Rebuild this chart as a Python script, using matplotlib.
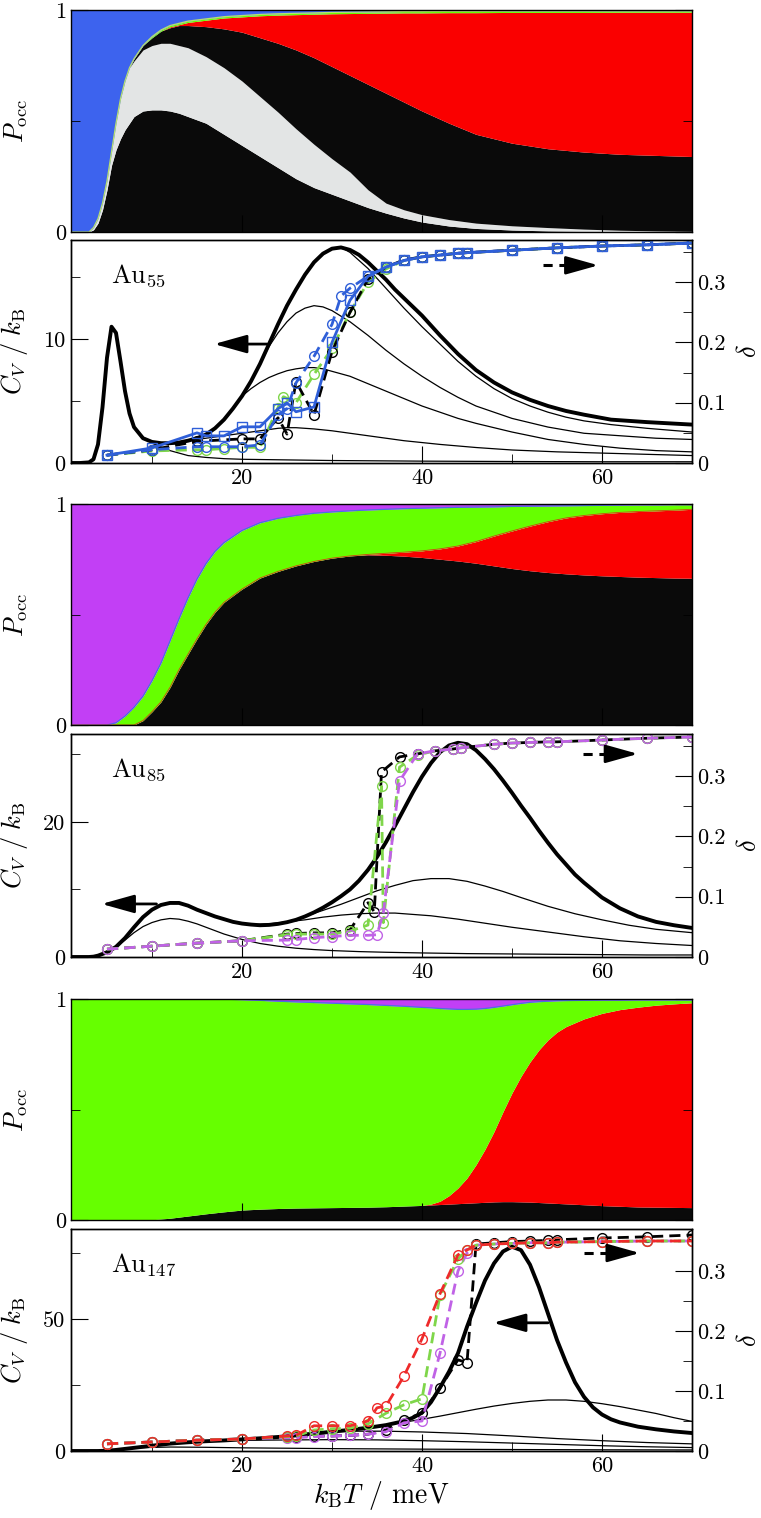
import numpy as np
import matplotlib
matplotlib.use('Agg')
import matplotlib.pyplot as plt

plt.rcParams['font.family'] = 'serif'
plt.rcParams['font.serif'] = ['cmr10', 'DejaVu Serif']
plt.rcParams['mathtext.fontset'] = 'cm'
plt.rcParams['axes.formatter.use_mathtext'] = True
plt.rcParams['axes.linewidth'] = 1.0

# ---------------- occupation probabilities (cumulative boundaries) ----------------
T_p55 = [1, 2, 3, 3.5, 4, 4.5, 5, 5.5, 6, 6.5, 7, 7.5, 8, 9, 10, 11, 12, 13, 14, 16, 18, 20,
         22, 24, 26, 28, 30, 32, 34, 36, 38, 40, 43, 46, 50, 54, 58, 62, 66, 70]
p55_black1 = [0, 0, 0, 0.01, 0.04, 0.10, 0.19, 0.30, 0.37, 0.42, 0.46, 0.49, 0.52, 0.545, 0.55, 0.55,
              0.545, 0.535, 0.52, 0.49, 0.44, 0.39, 0.34, 0.29, 0.24, 0.20, 0.17, 0.14, 0.11, 0.085,
              0.063, 0.045, 0.027, 0.016, 0.009, 0.005, 0.003, 0.002, 0.001, 0.0]
p55_gray = [0, 0, 0, 0.02, 0.06, 0.13, 0.23, 0.36, 0.49, 0.60, 0.68, 0.74, 0.77, 0.82, 0.84, 0.85,
            0.85, 0.84, 0.83, 0.79, 0.74, 0.68, 0.61, 0.54, 0.465, 0.395, 0.33, 0.27, 0.19, 0.13,
            0.1, 0.078, 0.056, 0.04, 0.028, 0.02, 0.013, 0.008, 0.005, 0.003]
p55_black2 = [0, 0, 0, 0.02, 0.06, 0.13, 0.23, 0.36, 0.49, 0.60, 0.68, 0.74, 0.78, 0.84, 0.875, 0.905,
              0.92, 0.93, 0.93, 0.925, 0.915, 0.90, 0.875, 0.85, 0.82, 0.785, 0.745, 0.705, 0.665,
              0.625, 0.585, 0.545, 0.49, 0.44, 0.40, 0.375, 0.36, 0.35, 0.345, 0.34]
p55_red = [0, 0, 0, 0.02, 0.06, 0.13, 0.23, 0.36, 0.49, 0.60, 0.68, 0.74, 0.78, 0.84, 0.875, 0.905,
           0.924, 0.934, 0.944, 0.954, 0.964, 0.969, 0.974, 0.977, 0.979, 0.981, 0.983, 0.984, 0.985,
           0.986, 0.987, 0.987, 0.988, 0.988, 0.989, 0.989, 0.989, 0.99, 0.99, 0.99]
p55_green = [0, 0, 0, 0.02, 0.06, 0.13, 0.23, 0.36, 0.49, 0.60, 0.68, 0.74, 0.78, 0.84, 0.88, 0.91,
             0.93, 0.94, 0.95, 0.96, 0.97, 0.975, 0.98, 0.983, 0.985, 0.987, 0.989, 0.99, 0.991,
             0.992, 0.993, 0.993, 0.994, 0.994, 0.995, 0.995, 0.995, 0.996, 0.996, 0.996]

T_p85 = [1, 4, 5, 6, 7, 8, 9, 10, 11, 12, 13, 14, 15, 16, 17, 18, 20, 22, 24, 26, 28, 30, 32, 34,
         36, 38, 40, 42, 44, 46, 48, 50, 52, 54, 56, 58, 60, 62, 64, 66, 68, 70]
p85_black = [0, 0, 0, 0, 0, 0, 0.02, 0.06, 0.105, 0.17, 0.25, 0.32, 0.39, 0.455, 0.51, 0.555, 0.615,
             0.665, 0.695, 0.72, 0.74, 0.755, 0.765, 0.77, 0.768, 0.764, 0.758, 0.75, 0.742, 0.732,
             0.72, 0.708, 0.698, 0.69, 0.684, 0.679, 0.675, 0.672, 0.669, 0.667, 0.665, 0.664]
p85_red = [0, 0, 0, 0, 0, 0, 0.02, 0.06, 0.105, 0.17, 0.25, 0.32, 0.39, 0.455, 0.51, 0.555, 0.615,
           0.665, 0.695, 0.72, 0.74, 0.755, 0.765, 0.772, 0.777, 0.782, 0.788, 0.797, 0.81, 0.83,
           0.855, 0.878, 0.90, 0.92, 0.937, 0.948, 0.956, 0.962, 0.966, 0.969, 0.972, 0.976]
p85_green = [0, 0, 0, 0.01, 0.04, 0.08, 0.13, 0.20, 0.28, 0.38, 0.48, 0.575, 0.66, 0.73, 0.785, 0.825,
             0.88, 0.915, 0.935, 0.948, 0.958, 0.964, 0.969, 0.973, 0.976, 0.979, 0.981, 0.983,
             0.985, 0.986, 0.987, 0.989, 0.99, 0.991, 0.992, 0.993, 0.994, 0.995, 0.996, 0.996,
             0.997, 0.997]

T_p147 = [1, 6, 8, 10, 12, 14, 16, 18, 20, 22, 24, 26, 28, 30, 32, 34, 36, 38, 40, 41, 42, 43, 44,
          45, 46, 47, 48, 49, 50, 51, 52, 53, 54, 55, 56, 58, 60, 62, 64, 66, 68, 70]
p147_black = [0, 0, 0, 0.001, 0.008, 0.018, 0.028, 0.037, 0.045, 0.049, 0.052, 0.054, 0.055, 0.056,
              0.057, 0.058, 0.06, 0.063, 0.066, 0.068, 0.07, 0.072, 0.074, 0.076, 0.078, 0.08, 0.082,
              0.083, 0.083, 0.082, 0.081, 0.079, 0.077, 0.075, 0.073, 0.069, 0.065, 0.062, 0.059,
              0.058, 0.057, 0.056]
p147_red = [0, 0, 0, 0.001, 0.008, 0.018, 0.028, 0.037, 0.045, 0.049, 0.052, 0.054, 0.055, 0.056,
            0.057, 0.058, 0.06, 0.063, 0.066, 0.072, 0.085, 0.11, 0.145, 0.19, 0.25, 0.32, 0.40,
            0.49, 0.575, 0.65, 0.715, 0.77, 0.815, 0.85, 0.875, 0.91, 0.935, 0.952, 0.963, 0.972,
            0.978, 0.983]
p147_green = [1.0, 1.0, 1.0, 1.0, 1.0, 1.0, 1.0, 0.999, 0.997, 0.994, 0.99, 0.987, 0.984, 0.981,
              0.978, 0.975, 0.971, 0.967, 0.962, 0.96, 0.957, 0.955, 0.953, 0.953, 0.954, 0.957,
              0.962, 0.968, 0.974, 0.98, 0.985, 0.988, 0.99, 0.992, 0.993, 0.994, 0.995, 0.995,
              0.996, 0.996, 0.996, 0.996]

# ---------------- heat capacity curves ----------------
T_cv55 = [1, 2, 3, 3.5, 4, 4.5, 5, 5.5, 6, 6.5, 7, 7.5, 8, 9, 10, 11, 12, 13, 14, 15, 16, 17, 18,
          19, 20, 21, 22, 23, 24, 25, 26, 27, 28, 29, 30, 31, 32, 33, 34, 35, 36, 37, 38, 39, 40,
          42, 44, 46, 48, 50, 52, 54, 56, 58, 61, 65, 70]
cv55 = [0, 0, 0.05, 0.3, 1.5, 4.5, 8.5, 11.0, 10.5, 8.2, 5.8, 4.0, 2.9, 2.0, 1.7, 1.6, 1.6, 1.65,
        1.8, 2.0, 2.3, 2.8, 3.5, 4.4, 5.4, 6.6, 8.0, 9.6, 11.2, 12.7, 14.0, 15.2, 16.2, 16.9, 17.3,
        17.4, 17.2, 16.8, 16.2, 15.5, 14.8, 14.0, 13.3, 12.6, 11.9, 10.3, 8.8, 7.5, 6.5, 5.7, 5.1,
        4.6, 4.2, 3.9, 3.5, 3.3, 3.1]
T_cv55_a = [31, 32, 34, 36, 38, 40, 42, 44, 46, 48, 50, 52, 54, 56, 58, 61, 65, 70]
cv55_a = [17.4, 17.0, 15.7, 14.1, 12.5, 11.0, 9.6, 8.2, 7.0, 6.0, 5.2, 4.6, 4.1, 3.7, 3.4, 3.1, 2.8, 2.5]
T_cv55_b = [21, 22, 23, 24, 25, 26, 27, 28, 29, 30, 32, 34, 36, 38, 40, 42, 44, 46, 50, 54, 58, 62,
            66, 70]
cv55_b = [6.6, 8.0, 9.4, 10.5, 11.4, 12.1, 12.5, 12.7, 12.6, 12.3, 11.4, 10.3, 9.1, 8.0, 7.0, 6.1,
          5.3, 4.6, 3.6, 2.9, 2.4, 2.2, 2.0, 1.9]
T_cv55_c = [20, 21, 22, 23, 24, 25, 26, 27, 28, 29, 30, 32, 34, 36, 38, 40, 42, 44, 46, 50, 54, 58,
            62, 66, 70]
cv55_c = [5.4, 6.0, 6.5, 6.9, 7.2, 7.45, 7.6, 7.7, 7.7, 7.6, 7.4, 7.0, 6.4, 5.8, 5.2, 4.6, 4.1, 3.6,
          3.2, 2.5, 1.9, 1.5, 1.2, 1.0, 0.9]
T_cv55_d = [14, 16, 18, 20, 22, 24, 25, 26, 28, 30, 32, 35, 38, 42, 46, 50, 55, 60, 65, 70]
cv55_d = [1.8, 2.0, 2.2, 2.4, 2.6, 2.8, 2.85, 2.85, 2.75, 2.6, 2.4, 2.1, 1.8, 1.5, 1.25, 1.05, 0.9,
          0.8, 0.7, 0.6]
T_cv55_e = [10, 11, 12, 13, 14, 16, 18, 20, 25, 30, 40, 50, 60, 70]
cv55_e = [1.6, 1.3, 1.0, 0.8, 0.6, 0.45, 0.35, 0.3, 0.25, 0.2, 0.15, 0.12, 0.1, 0.1]

T_cv85 = [1, 2, 3, 3.5, 4, 5, 6, 7, 8, 9, 10, 11, 12, 13, 14, 15, 16, 17, 18, 19, 20, 21, 22, 23,
          24, 25, 26, 27, 28, 29, 30, 31, 32, 33, 34, 35, 36, 37, 38, 39, 40, 41, 42, 43, 44, 45,
          46, 47, 48, 49, 50, 51, 52, 53, 54, 55, 56, 57, 58, 60, 62, 64, 66, 68, 70]
cv85 = [0, 0, 0, 0.05, 0.2, 0.7, 1.5, 2.8, 4.4, 5.9, 7.0, 7.7, 8.0, 8.0, 7.6, 7.0, 6.5, 6.0, 5.6,
        5.2, 4.95, 4.8, 4.7, 4.75, 4.9, 5.15, 5.5, 6.0, 6.6, 7.3, 8.1, 9.0, 10.0, 11.3, 12.9, 14.8,
        17.0, 19.4, 21.9, 24.4, 26.7, 28.7, 30.3, 31.3, 31.7, 31.5, 30.6, 29.3, 27.8, 26.1, 24.3,
        22.4, 20.6, 18.7, 16.9, 15.2, 13.7, 12.2, 11.0, 8.8, 7.2, 6.0, 5.2, 4.7, 4.3]
T_cv85_a = [27, 29, 31, 33, 35, 37, 39, 41, 43, 45, 47, 49, 51, 54, 57, 60, 63, 66, 70]
cv85_a = [6.0, 6.9, 7.8, 8.8, 9.8, 10.6, 11.3, 11.6, 11.6, 11.2, 10.5, 9.7, 8.8, 7.5, 6.4, 5.5,
          4.7, 4.1, 3.6]
T_cv85_b = [21, 23, 25, 27, 29, 31, 33, 35, 37, 39, 41, 44, 47, 50, 54, 58, 62, 66, 70]
cv85_b = [4.8, 4.9, 5.2, 5.5, 5.9, 6.2, 6.4, 6.5, 6.5, 6.3, 6.1, 5.6, 5.0, 4.4, 3.7, 3.0, 2.4, 2.0, 1.7]
T_cv85_c = [6, 7, 8, 9, 10, 11, 12, 13, 14, 15, 16, 17, 18, 19, 20, 22, 24, 26, 28, 30, 33, 36, 40,
            45, 50, 55, 60, 65, 70]
cv85_c = [1.5, 2.5, 3.6, 4.5, 5.1, 5.5, 5.7, 5.6, 5.3, 4.9, 4.4, 3.9, 3.4, 3.0, 2.6, 2.0, 1.6, 1.3,
          1.1, 0.95, 0.8, 0.7, 0.6, 0.5, 0.45, 0.4, 0.35, 0.3, 0.3]

T_cv147 = [1, 4, 5, 6, 8, 10, 12, 14, 16, 18, 20, 22, 24, 26, 28, 30, 32, 34, 36, 38, 39, 40, 41, 42,
           43, 44, 45, 46, 47, 48, 49, 50, 51, 52, 53, 54, 55, 56, 57, 58, 59, 60, 61, 62, 64, 66,
           68, 70]
cv147 = [0, 0, 0.1, 0.4, 1.2, 2.0, 2.8, 3.3, 3.7, 4.0, 4.4, 4.8, 5.3, 5.9, 6.6, 7.3, 8.0, 8.8, 9.8,
         11.3, 12.6, 14.5, 18.5, 24.0, 30.0, 37.0, 47.0, 56.0, 64.5, 71.0, 75.5, 77.3, 76.0, 70.5,
         62.0, 52.0, 42.0, 33.5, 26.0, 20.5, 16.5, 13.8, 12.0, 10.8, 9.2, 8.2, 7.4, 6.8]
T_cv147_a = [36, 38, 40, 42, 44, 46, 48, 50, 52, 54, 56, 58, 60, 62, 64, 66, 68, 70]
cv147_a = [9.8, 10.9, 12.0, 13.2, 14.5, 15.8, 17.0, 18.0, 18.8, 19.3, 19.3, 18.8, 17.9, 16.8, 15.5,
           14.2, 12.6, 11.2]
T_cv147_b = [30, 33, 36, 40, 45, 50, 55, 60, 65, 70]
cv147_b = [7.3, 7.5, 7.5, 7.2, 6.6, 5.7, 4.7, 3.9, 3.2, 2.7]
T_cv147_c = [18, 22, 26, 30, 35, 40, 45, 50, 55, 60, 65, 70]
cv147_c = [4.0, 4.1, 4.2, 4.3, 4.2, 3.9, 3.5, 3.0, 2.5, 2.0, 1.6, 1.3]
T_cv147_d = [8, 12, 16, 20, 30, 40, 50, 60, 70]
cv147_d = [1.2, 1.5, 1.4, 1.2, 0.9, 0.7, 0.55, 0.45, 0.4]

# ---------------- delta (right axis) ----------------
T_d55_k = [5, 10, 15, 20, 22, 24, 25, 26, 28, 30, 32, 34, 36, 38, 40, 42, 44, 45, 50, 55, 60, 65, 70]
d55_k = [0.013, 0.022, 0.036, 0.040, 0.040, 0.075, 0.048, 0.135, 0.08, 0.185, 0.25, 0.305, 0.325,
         0.337, 0.342, 0.345, 0.348, 0.349, 0.353, 0.357, 0.36, 0.362, 0.365]
T_d55_g = [5, 10, 15, 16, 18, 20, 22, 24, 24.6, 26, 28, 30, 32, 34, 36, 38, 40, 42, 44, 45, 50, 55,
           60, 65, 70]
d55_g = [0.013, 0.02, 0.022, 0.022, 0.024, 0.026, 0.026, 0.092, 0.11, 0.10, 0.147, 0.19, 0.25, 0.30,
         0.322, 0.336, 0.342, 0.345, 0.348, 0.349, 0.353, 0.357, 0.36, 0.362, 0.365]
T_d55_b = [5, 10, 15, 16, 18, 20, 22, 24, 25, 26, 28, 30, 31, 32, 34, 36, 38, 40, 42, 44, 45, 50, 55,
           60, 65, 70]
d55_b = [0.013, 0.022, 0.027, 0.027, 0.027, 0.027, 0.03, 0.08, 0.09, 0.133, 0.177, 0.23, 0.277,
         0.29, 0.31, 0.325, 0.336, 0.342, 0.345, 0.348, 0.349, 0.353, 0.357, 0.36, 0.362, 0.365]
T_d55_s = [5, 10, 15, 16, 18, 20, 22, 24, 25, 26, 28, 30, 32, 34, 36, 38, 40, 42, 44, 45, 50, 55,
           60, 65, 70]
d55_s = [0.013, 0.025, 0.05, 0.045, 0.045, 0.06, 0.06, 0.09, 0.10, 0.085, 0.093, 0.20, 0.27, 0.31,
         0.325, 0.336, 0.342, 0.345, 0.348, 0.349, 0.353, 0.357, 0.36, 0.362, 0.365]

T_d85_k = [5, 10, 15, 20, 25, 26, 28, 30, 32, 34, 34.7, 35.5, 37.5, 39.5, 41.4, 43.4, 44.3, 48, 50,
           52, 54, 55, 60, 65, 70]
d85_k = [0.013, 0.018, 0.023, 0.027, 0.038, 0.039, 0.04, 0.04, 0.045, 0.09, 0.075, 0.307, 0.332,
         0.337, 0.342, 0.345, 0.347, 0.353, 0.355, 0.356, 0.357, 0.357, 0.36, 0.363, 0.365]
T_d85_g = [5, 10, 15, 20, 25, 26, 28, 30, 32, 34, 35.5, 35.7, 37.5, 39.5, 41.4, 43.4, 44.3, 48, 50,
           52, 54, 55, 60, 65, 70]
d85_g = [0.013, 0.018, 0.023, 0.027, 0.037, 0.038, 0.038, 0.038, 0.043, 0.053, 0.283, 0.057, 0.315,
         0.335, 0.342, 0.345, 0.347, 0.353, 0.355, 0.356, 0.357, 0.357, 0.36, 0.363, 0.365]
T_d85_m = [5, 10, 15, 20, 25, 26, 28, 30, 32, 34, 35, 35.7, 37.5, 39.5, 41.4, 43.4, 44.3, 48, 50, 52,
           54, 55, 60, 65, 70]
d85_m = [0.013, 0.018, 0.023, 0.027, 0.028, 0.029, 0.032, 0.034, 0.036, 0.036, 0.037, 0.073, 0.292,
         0.337, 0.342, 0.345, 0.347, 0.353, 0.355, 0.356, 0.357, 0.357, 0.36, 0.363, 0.365]

T_d147_r = [5, 10, 15, 20, 25, 26, 28, 30, 32, 34, 35, 36, 38, 40, 42, 44, 45, 46, 48, 50, 52, 54,
            55, 60, 65, 70]
d147_r = [0.012, 0.015, 0.018, 0.02, 0.025, 0.026, 0.042, 0.042, 0.042, 0.05, 0.072, 0.075, 0.125,
          0.187, 0.262, 0.327, 0.335, 0.343, 0.345, 0.346, 0.347, 0.347, 0.348, 0.349, 0.35, 0.35]
T_d147_g = [5, 10, 15, 20, 25, 26, 28, 30, 32, 34, 36, 38, 40, 42, 44, 45, 46, 48, 50, 52, 54, 55,
            60, 65, 70]
d147_g = [0.012, 0.015, 0.018, 0.02, 0.024, 0.025, 0.035, 0.037, 0.038, 0.045, 0.063, 0.077, 0.087,
          0.26, 0.32, 0.335, 0.343, 0.345, 0.346, 0.347, 0.347, 0.348, 0.349, 0.35, 0.35]
T_d147_m = [5, 10, 15, 20, 25, 26, 28, 30, 32, 34, 36, 38, 40, 42, 44, 45, 46, 48, 50, 52, 54, 55,
            60, 65, 70]
d147_m = [0.012, 0.015, 0.018, 0.02, 0.022, 0.022, 0.024, 0.025, 0.026, 0.028, 0.032, 0.047, 0.05,
          0.163, 0.30, 0.33, 0.343, 0.345, 0.346, 0.347, 0.347, 0.348, 0.349, 0.35, 0.35]
T_d147_k = [5, 10, 15, 20, 25, 26, 28, 30, 32, 34, 36, 38, 40, 42, 44, 45, 46, 48, 50, 52, 54, 55,
            60, 65, 70]
d147_k = [0.012, 0.015, 0.018, 0.02, 0.023, 0.024, 0.025, 0.025, 0.026, 0.028, 0.035, 0.052, 0.063,
          0.105, 0.152, 0.147, 0.345, 0.347, 0.349, 0.35, 0.351, 0.352, 0.355, 0.357, 0.36]

# colours
c_black = '#0a0a0a'
c_gray = '#e3e5e5'
c_red = '#fa0000'
c_blue = '#3d63ee'
c_green = '#66ff00'
c_purple = '#c23ff5'

W, H = 761, 1518
fig = plt.figure(figsize=(W / 100, H / 100), dpi=100)

def add_ax(top, bottom):
    return fig.add_axes([71 / W, 1 - bottom / H, 621 / W, (bottom - top) / H])

def style_pocc(ax):
    ax.set_xlim(1, 70)
    ax.set_ylim(0, 1)
    ax.set_yticks([0, 1])
    ax.set_yticklabels(['0', '1'])
    ax.set_yticks([0.5], minor=True)
    ax.set_xticks([20, 40, 60])
    ax.set_xticklabels([])
    ax.tick_params(which='both', direction='in', left=True, right=True, labelsize=16)
    ax.tick_params(which='major', length=12)
    ax.tick_params(which='minor', length=6.5)
    ax.set_ylabel(r'$P_{\rm occ}$', fontsize=19)
    ax.yaxis.set_label_coords(-0.066, 0.5)

def style_cv(ax, ymax, major, minor, name):
    ax.set_xlim(1, 70)
    ax.set_ylim(0, ymax)
    ax.set_yticks(major)
    ax.set_yticklabels([str(v) for v in major])
    ax.set_yticks(minor, minor=True)
    ax.set_xticks([20, 40, 60])
    ax.set_xticklabels(['20', '40', '60'])
    ax.set_xticks([10, 30, 50, 70], minor=True)
    ax.tick_params(which='both', direction='in', right=False, top=False, labelsize=16, pad=4)
    ax.tick_params(which='major', length=12)
    ax.tick_params(which='minor', length=6.5)
    ax.set_ylabel(r'$C_V\ /\ k_{\rm B}$', fontsize=19)
    ax.yaxis.set_label_coords(-0.066, 0.5)
    ax.text(0.065, 0.84, name, transform=ax.transAxes, fontsize=19, va='center', ha='left')
    ax2 = ax.twinx()
    ax2.set_ylim(0, 0.37)
    ax2.set_yticks([0, 0.1, 0.2, 0.3])
    ax2.set_yticklabels(['0', '0.1', '0.2', '0.3'])
    ax2.set_yticks([0.05, 0.15, 0.25, 0.35], minor=True)
    ax2.tick_params(which='both', direction='in', labelsize=16, pad=4)
    ax2.tick_params(which='major', length=12)
    ax2.tick_params(which='minor', length=6.5)
    ax2.set_ylabel(r'$\delta$', fontsize=19)
    ax2.yaxis.set_label_coords(1.072, 0.5)
    return ax2

def dline(ax, x, y, color, marker='o', ls='--'):
    ax.plot(x, y, ls=ls, color=color, lw=2.0, dashes=(4, 2.2) if ls == '--' else (None, None),
            marker=marker, ms=7, mfc='none', mec=color, mew=1.0)

head = '-|>,head_length=1.0,head_width=0.28'

def left_arrow(ax, tail, tip):
    ax.annotate('', xy=tip, xytext=tail,
                arrowprops=dict(arrowstyle=head, lw=2.0, color='k',
                                shrinkA=0, shrinkB=0, mutation_scale=20))

def right_arrow(ax, x0, x1, x2, y):
    # dashed shaft, then the solid head
    ax.plot([x0, x1], [y, y], color='k', lw=2.2, dashes=(3.0, 2.2))
    ax.annotate('', xy=(x2, y), xytext=(x1, y),
                arrowprops=dict(arrowstyle=head, lw=2.0, color='k',
                                shrinkA=0, shrinkB=0, mutation_scale=20))

# ---- panel 1: Au55 occupation ----
ax = add_ax(10, 232)
ax.fill_between(T_p55, 0, p55_black1, color=c_black, lw=0)
ax.fill_between(T_p55, p55_black1, p55_gray, color=c_gray, lw=0)
ax.fill_between(T_p55, p55_gray, p55_black2, color=c_black, lw=0)
ax.fill_between(T_p55, p55_black2, p55_red, color=c_red, lw=0)
ax.fill_between(T_p55, p55_red, p55_green, color=c_green, lw=0)
ax.fill_between(T_p55, p55_green, 1, color=c_blue, lw=0)
ax.plot(T_p55, p55_green, color='#b8e070', lw=0.9)
style_pocc(ax)

# ---- panel 2: Au55 Cv ----
ax = add_ax(240, 463)
ax2 = style_cv(ax, 18, [0, 10], [5, 15], r'$\mathrm{Au}_{55}$')
for tx, cy in [(T_cv55_a, cv55_a), (T_cv55_b, cv55_b), (T_cv55_c, cv55_c), (T_cv55_d, cv55_d),
               (T_cv55_e, cv55_e)]:
    ax.plot(tx, cy, color='k', lw=0.9)
ax.plot(T_cv55, cv55, color='k', lw=2.8)
left_arrow(ax, (22.8, 9.6), (16.9, 9.6))
dline(ax2, T_d55_g, d55_g, '#7fd64a')
dline(ax2, T_d55_k, d55_k, 'k')
dline(ax2, T_d55_s, d55_s, '#2f5fd8', marker='s', ls='-')
dline(ax2, T_d55_b, d55_b, '#2f5fd8')
right_arrow(ax2, 53.4, 56.6, 59.6, 0.328)

# ---- panel 3: Au85 occupation ----
ax = add_ax(504, 725)
ax.fill_between(T_p85, 0, p85_black, color=c_black, lw=0)
ax.fill_between(T_p85, p85_black, p85_red, color=c_red, lw=0)
ax.fill_between(T_p85, p85_red, p85_green, color=c_green, lw=0)
ax.fill_between(T_p85, p85_green, 1, color=c_purple, lw=0)
ax.plot(T_p85, p85_green, color='#4a6ee0', lw=0.9)
ax.plot(T_p85, p85_red, color='#d04010', lw=0.6)
style_pocc(ax)

# ---- panel 4: Au85 Cv ----
ax = add_ax(734, 957)
ax2 = style_cv(ax, 33, [0, 20], [10, 30], r'$\mathrm{Au}_{85}$')
for tx, cy in [(T_cv85_a, cv85_a), (T_cv85_b, cv85_b), (T_cv85_c, cv85_c)]:
    ax.plot(tx, cy, color='k', lw=0.9)
ax.plot(T_cv85, cv85, color='k', lw=2.8)
left_arrow(ax, (10.5, 7.85), (4.4, 7.85))
dline(ax2, T_d85_k, d85_k, 'k')
dline(ax2, T_d85_g, d85_g, '#7fd64a')
dline(ax2, T_d85_m, d85_m, '#c062e6')
right_arrow(ax2, 57.9, 61.0, 64.0, 0.337)

# ---- panel 5: Au147 occupation ----
ax = add_ax(999, 1220)
ax.fill_between(T_p147, 0, p147_black, color=c_black, lw=0)
ax.fill_between(T_p147, p147_black, p147_red, color=c_red, lw=0)
ax.fill_between(T_p147, p147_red, p147_green, color=c_green, lw=0)
ax.fill_between(T_p147, p147_green, 1, color=c_purple, lw=0)
ax.plot(T_p147, p147_green, color='#4a6ee0', lw=0.9)
style_pocc(ax)

# ---- panel 6: Au147 Cv ----
ax = add_ax(1229, 1451)
ax2 = style_cv(ax, 84, [0, 50], [25, 75], r'$\mathrm{Au}_{147}$')
for tx, cy in [(T_cv147_a, cv147_a), (T_cv147_b, cv147_b), (T_cv147_c, cv147_c),
               (T_cv147_d, cv147_d)]:
    ax.plot(tx, cy, color='k', lw=0.9)
ax.plot(T_cv147, cv147, color='k', lw=2.8)
left_arrow(ax, (54.0, 48.5), (47.9, 48.5))
dline(ax2, T_d147_k, d147_k, 'k')
dline(ax2, T_d147_m, d147_m, '#c062e6')
dline(ax2, T_d147_g, d147_g, '#7fd64a')
dline(ax2, T_d147_r, d147_r, '#ee2a2a')
right_arrow(ax2, 58.0, 61.2, 64.2, 0.33)
ax.set_xlabel(r'$k_{\rm B}T$ / meV', fontsize=20)
ax.xaxis.set_label_coords(0.5, -0.125)

fig.savefig('out.png', dpi=100)
